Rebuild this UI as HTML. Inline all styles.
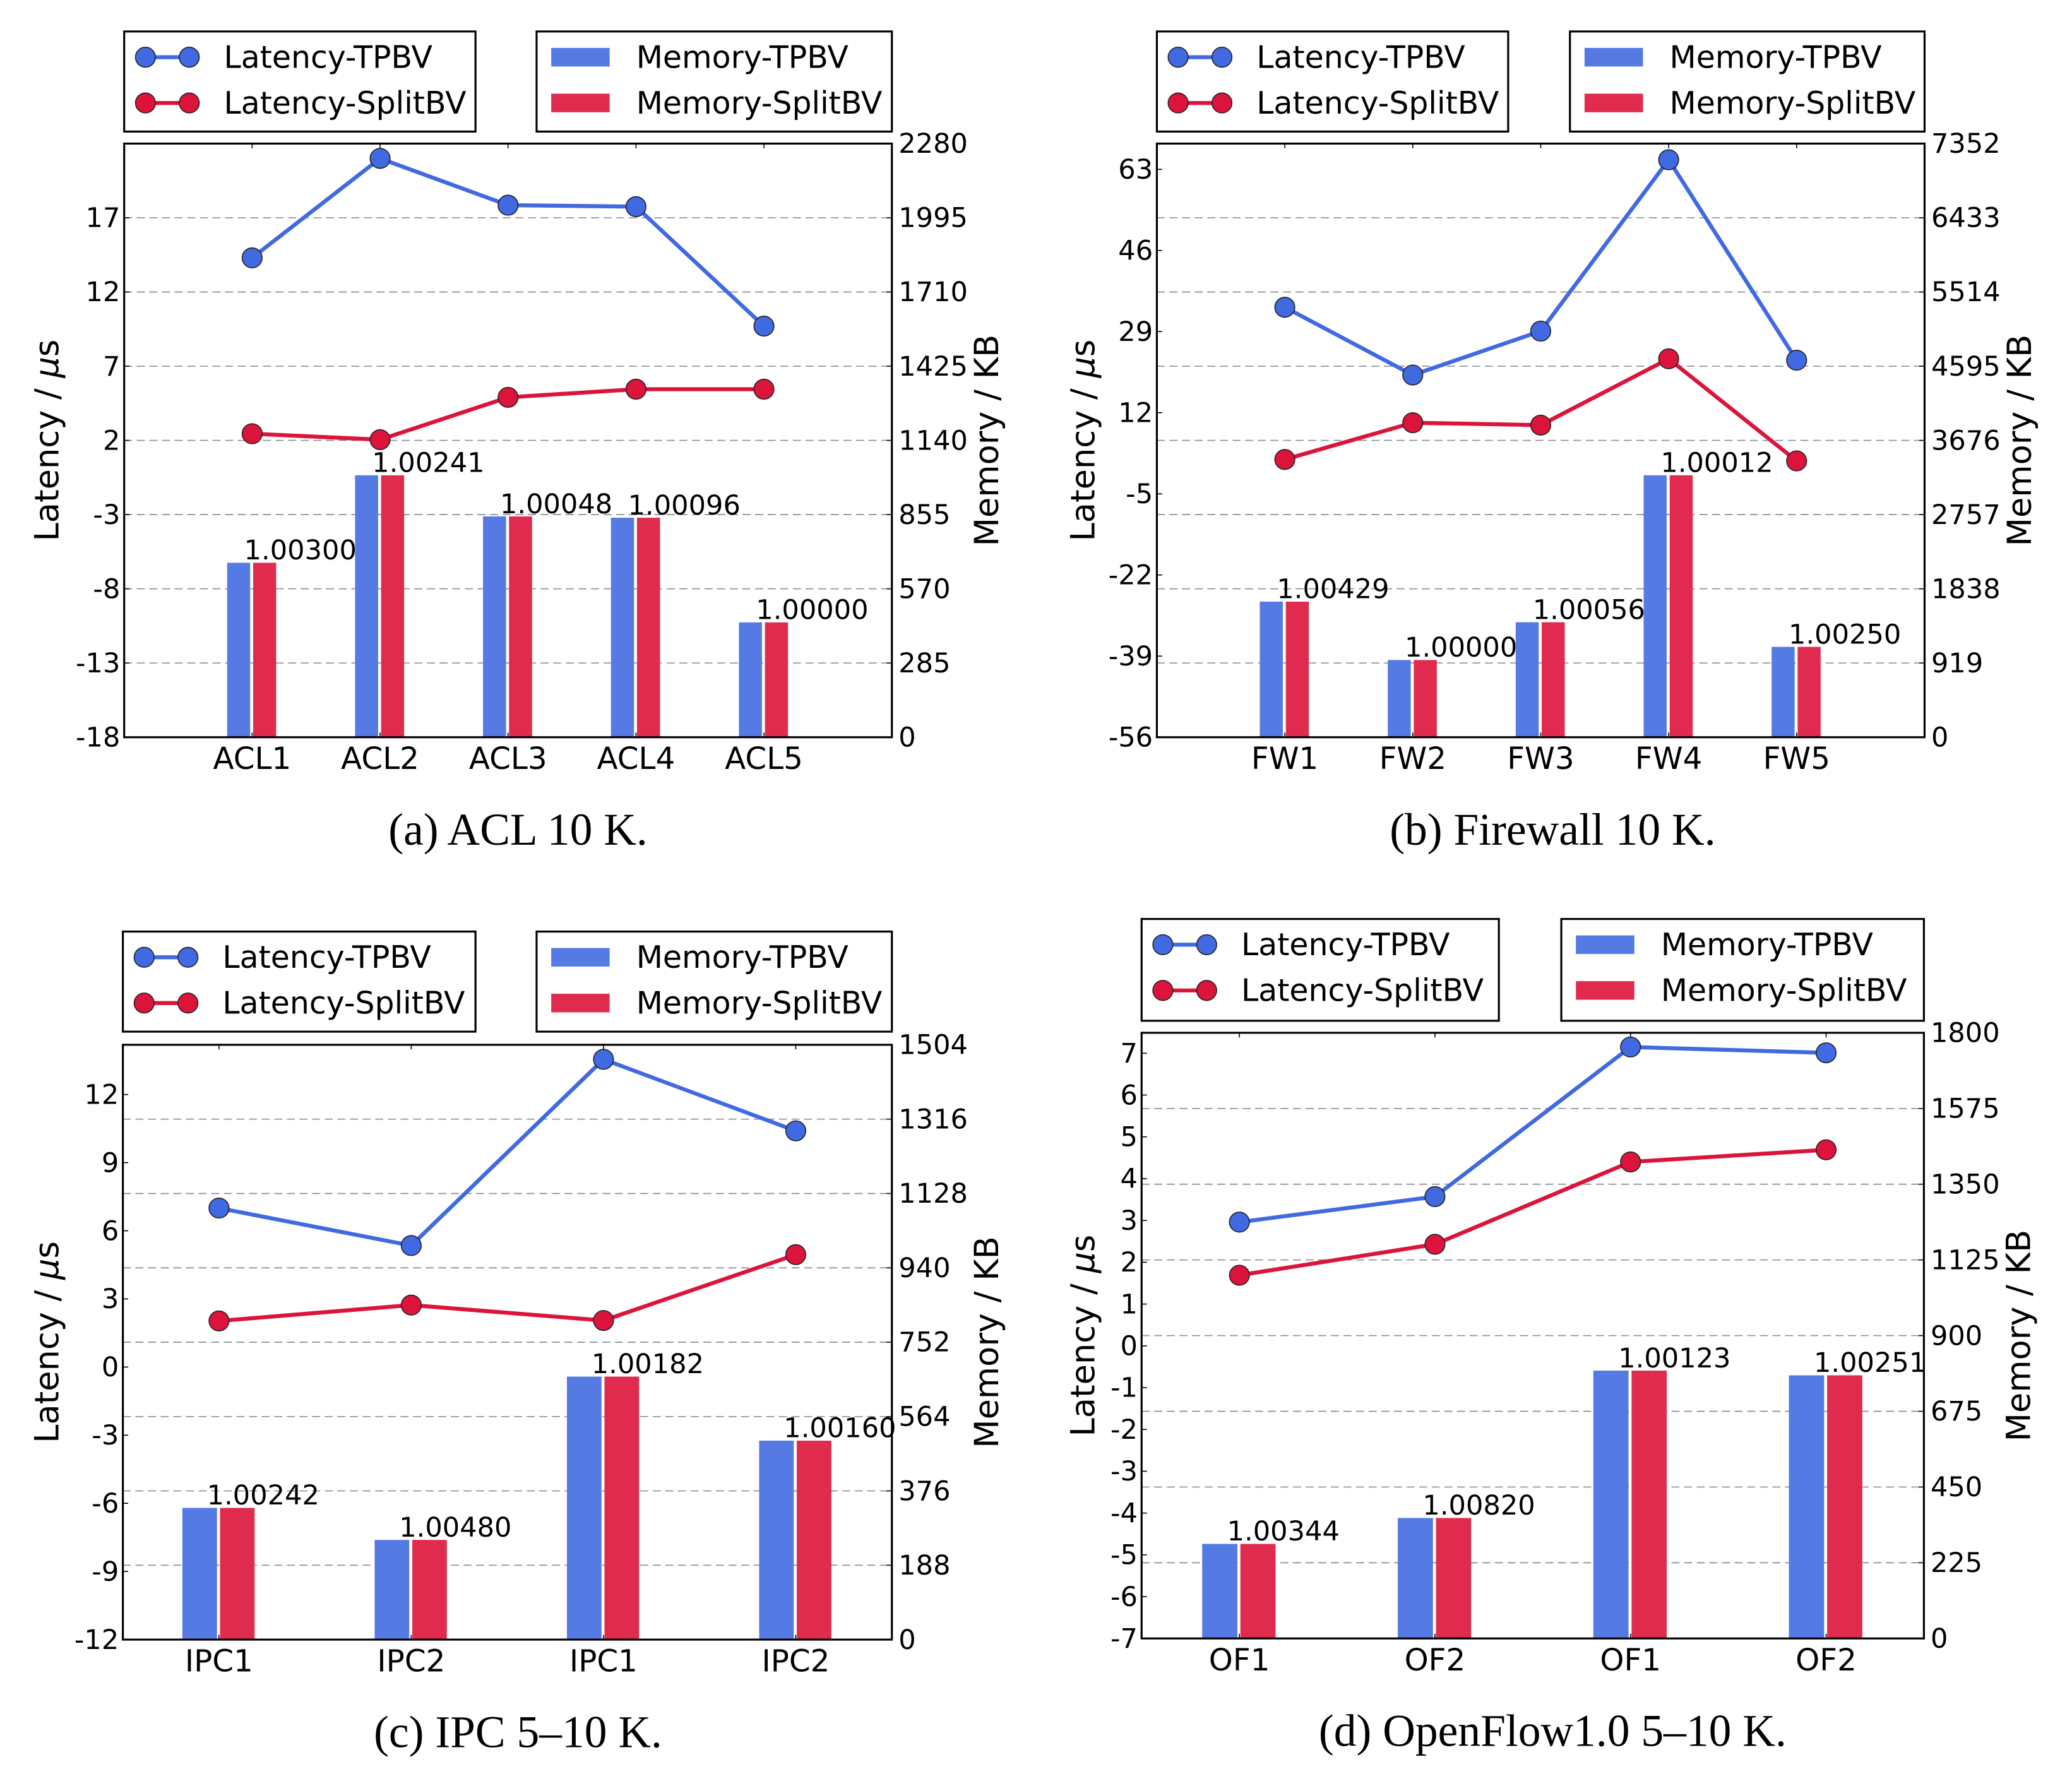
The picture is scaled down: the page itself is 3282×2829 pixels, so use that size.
<!DOCTYPE html>
<html><head><meta charset="utf-8"><style>
html,body{margin:0;padding:0;background:#fff;}
svg{display:block;}
text{font-family:"DejaVu Sans","Liberation Sans",sans-serif;fill:#000;}
.cap{font-family:"Liberation Serif","DejaVu Serif",serif;}
</style></head><body>
<svg id="fig" xmlns="http://www.w3.org/2000/svg" width="3282" height="2829" viewBox="0 0 3120 2689.3"></svg>
<script>
// ---- data ----
const catsA = ["ACL1","ACL2","ACL3","ACL4","ACL5"];
const latTpbvA = [14.3,21.0,17.85,17.75,9.7];
const latSplitA = [2.45,2.05,4.9,5.45,5.45];
const memTpbvA = [670,1006,848,843,441];
const memSplitA = [670,1006,848,843,441];
const ratioA = ["1.00300","1.00241","1.00048","1.00096","1.00000"];
const leftTicksA = [-18,-13,-8,-3,2,7,12,17];
const rightTicksA = [0,285,570,855,1140,1425,1710,1995,2280];

const catsB = ["FW1","FW2","FW3","FW4","FW5"];
const latTpbvB = [34.1,19.9,29.1,65.0,23.0];
const latSplitB = [2.2,9.9,9.4,23.3,1.9];
const memTpbvB = [1679,956,1424,3244,1119];
const memSplitB = [1679,956,1424,3244,1119];
const ratioB = ["1.00429","1.00000","1.00056","1.00012","1.00250"];
const leftTicksB = [-56,-39,-22,-5,12,29,46,63];
const rightTicksB = [0,919,1838,2757,3676,4595,5514,6433,7352];

const catsC = ["IPC1","IPC2","IPC1","IPC2"];
const latTpbvC = [7.0,5.35,13.55,10.4];
const latSplitC = [2.03,2.73,2.05,4.95];
const memTpbvC = [333,252,665,503];
const memSplitC = [333,252,665,503];
const ratioC = ["1.00242","1.00480","1.00182","1.00160"];
const leftTicksC = [-12,-9,-6,-3,0,3,6,9,12];
const rightTicksC = [0,188,376,564,752,940,1128,1316,1504];

const catsD = ["OF1","OF2","OF1","OF2"];
const latTpbvD = [2.96,3.57,7.15,7.01];
const latSplitD = [1.69,2.43,4.40,4.69];
const memTpbvD = [281,358,796,782];
const memSplitD = [281,358,796,782];
const ratioD = ["1.00344","1.00820","1.00123","1.00251"];
const leftTicksD = [-7,-6,-5,-4,-3,-2,-1,0,1,2,3,4,5,6,7];
const rightTicksD = [0,225,450,675,900,1125,1350,1575,1800];

const NS="http://www.w3.org/2000/svg";
const svg=document.getElementById('fig');
const K=0.8612;
function mk(tag,attrs,parent){const e=document.createElementNS(NS,tag);for(const k in attrs)e.setAttribute(k,attrs[k]);(parent||svg).appendChild(e);return e;}
const BLUE="#4169E1",RED="#DC143C",BBAR="#557AE3",RBAR="#E02B4E";

function panel(id,ox,oy,box,lmin,lmax,rmax,cats,lt,ls,mt,ms,ratios,lticks,rticks,leg,caption,capx,wide){
  const g=mk('g',{transform:`translate(${ox},${oy})`});
  
  
  const L=box[0],R=box[1],T=box[2]*K,B=box[3]*K;
  const yl=v=>B-(v-lmin)/(lmax-lmin)*(B-T);
  const yr=v=>B-v/rmax*(B-T);
  const slot=wide?(R-L)/(cats.length+1):(R-L)/cats.length;
  const xc=i=>wide?L+slot*(i+1):L+slot*(i+0.5);
  const bw=slot*0.18;
  rticks.forEach((t,i)=>{
    if(i===0||i===rticks.length-1)return;
    const gl=mk('line',{x1:L,x2:R,y1:yr(t),y2:yr(t),stroke:'#8a8f98','stroke-width':1.6,'stroke-dasharray':'12,7'},g);
    
    
  });
  cats.forEach((c,i)=>{
    const b1=mk('rect',{x:xc(i)-bw-3,y:yr(mt[i]),width:bw,height:B-yr(mt[i]),fill:BBAR},g);
    
    
    const b2=mk('rect',{x:xc(i)+1.5,y:yr(ms[i]),width:bw,height:B-yr(ms[i]),fill:RBAR},g);
    
    
    const tx=mk('text',{x:xc(i)-bw*0.35,y:yr(ms[i])-5,'font-size':41},g);
    tx.textContent=ratios[i];
    
    
  });
  [[lt,BLUE,'latency-tpbv'],[ls,RED,'latency-splitbv']].forEach(([d,col,nm])=>{
    const pl=mk('polyline',{points:d.map((v,i)=>xc(i)+','+yl(v)).join(' '),fill:'none',stroke:col,'stroke-width':6},g);
    
    
    d.forEach((v,i)=>{
      const m=mk('circle',{cx:xc(i),cy:yl(v),r:15,fill:col,stroke:'#222','stroke-width':1.5},g);
      
      
    });
  });
  const fr=mk('rect',{x:L,y:T,width:R-L,height:B-T,fill:'none',stroke:'#000','stroke-width':3},g);
  
  
  cats.forEach((c,i)=>{
    mk('line',{x1:xc(i),x2:xc(i),y1:T,y2:T+7,stroke:'#000','stroke-width':1.5},g);
    mk('line',{x1:xc(i),x2:xc(i),y1:B,y2:B-7,stroke:'#000','stroke-width':1.5},g);
    const t=mk('text',{x:xc(i),y:B+48,'font-size':46,'text-anchor':'middle'},g);
    t.textContent=c;
    
    
  });
  lticks.forEach(v=>{
    mk('line',{x1:L,x2:L+8,y1:yl(v),y2:yl(v),stroke:'#000','stroke-width':1.5},g);
    const t=mk('text',{x:L-6,y:yl(v)+14,'font-size':41,'text-anchor':'end'},g);
    t.textContent=v;
    
    
  });
  rticks.forEach(v=>{
    mk('line',{x1:R,x2:R-8,y1:yr(v),y2:yr(v),stroke:'#000','stroke-width':1.5},g);
    const t=mk('text',{x:R+10,y:yr(v)+14,'font-size':41},g);
    t.textContent=v;
    
    
  });
  const my=(T+B)/2;
  const yt=mk('text',{x:0,y:0,'font-size':50,'text-anchor':'middle',transform:`translate(88,${my}) rotate(-90)`},g);
  yt.innerHTML='Latency / <tspan font-style="italic">μ</tspan>s';
  
  
  const rt=mk('text',{x:0,y:0,'font-size':50,'text-anchor':'middle',transform:`translate(${R+160},${my}) rotate(-90)`},g);
  rt.textContent='Memory / KB';
  
  
  const l1x=leg[0],l1r=leg[1],l2x=leg[2],l2r=leg[3],ly=leg[4]*K,lb=leg[5]*K;
  const lg1=mk('g',{},g);
  
  
  mk('rect',{x:l1x,y:ly,width:l1r-l1x,height:lb-ly,fill:'#fff',stroke:'#000','stroke-width':3},lg1);
  [[BLUE,'Latency-TPBV',45*K],[RED,'Latency-SplitBV',125*K]].forEach(([col,lab,dy])=>{
    const e=mk('g',{},lg1);
    
    
    mk('line',{x1:l1x+32,x2:l1x+98,y1:ly+dy,y2:ly+dy,stroke:col,'stroke-width':6},e);
    mk('circle',{cx:l1x+32,cy:ly+dy,r:15,fill:col,stroke:'#222','stroke-width':1.5},e);
    mk('circle',{cx:l1x+98,cy:ly+dy,r:15,fill:col,stroke:'#222','stroke-width':1.5},e);
    const t=mk('text',{x:l1x+150,y:ly+dy+16,'font-size':46.5},e);t.textContent=lab;
  });
  const lg2=mk('g',{},g);
  
  
  mk('rect',{x:l2x,y:ly,width:l2r-l2x,height:lb-ly,fill:'#fff',stroke:'#000','stroke-width':3},lg2);
  [[BBAR,'Memory-TPBV',45*K],[RBAR,'Memory-SplitBV',125*K]].forEach(([col,lab,dy])=>{
    const e=mk('g',{},lg2);
    
    
    mk('rect',{x:l2x+22,y:ly+dy-14,width:88,height:28,fill:col},e);
    const t=mk('text',{x:l2x+150,y:ly+dy+16,'font-size':46.5},e);t.textContent=lab;
  });
  const cp=mk('text',{x:capx,y:B+162,'font-size':68,'text-anchor':'middle',class:'cap'},g);
  cp.textContent=caption;
  
  
}
panel('a',0,0,[187,1343,251,1289],-18,22,2280,catsA,latTpbvA,latSplitA,memTpbvA,memSplitA,ratioA,leftTicksA,rightTicksA,[187,716,808,1343,55,230],'(a)  ACL 10 K.',780,true);
panel('b',1560,0,[182,1338,251,1289],-56,68.4,7352,catsB,latTpbvB,latSplitB,memTpbvB,memSplitB,ratioB,leftTicksB,rightTicksB,[182,711,804,1338,55,230],'(b)  Firewall 10 K.',778,true);
panel('c',0,1345,[185,1343,265,1305],-12,14.19,1504,catsC,latTpbvC,latSplitC,memTpbvC,memSplitC,ratioC,leftTicksC,rightTicksC,[185,716,808,1343,67,242],'(c)  IPC 5–10 K.',780,false);
panel('d',1560,1345,[159,1337,244,1303],-7,7.49,1800,catsD,latTpbvD,latSplitD,memTpbvD,memSplitD,ratioD,leftTicksD,rightTicksD,[159,697,791,1337,45,223],'(d)  OpenFlow1.0 5–10 K.',778,false);
</script>
</body></html>
